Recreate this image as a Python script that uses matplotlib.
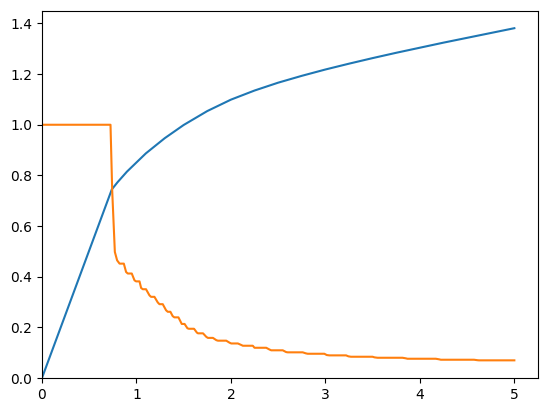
import numpy as np
import matplotlib
matplotlib.use("Agg")
import matplotlib.pyplot as plt

# blue curve
blue_x = [0, 0.74, 0.8, 0.9, 1.1, 1.3, 1.5, 1.75, 2.0, 2.25, 2.5, 2.75, 3.0,
          3.25, 3.5, 3.75, 4.0, 4.25, 4.5, 4.75, 5.0]
blue_y = [0, 0.745, 0.773, 0.815, 0.887, 0.947, 0.999, 1.054, 1.099, 1.135, 1.166, 1.193, 1.218,
          1.241, 1.263, 1.284, 1.304, 1.324, 1.343, 1.362, 1.381]

# orange stepped curve (corners of the steps)
orange_x = [0, 0.726, 0.744, 0.772, 0.796, 0.822, 0.867, 0.891, 0.909, 0.951,
            0.980, 0.997, 1.033, 1.050, 1.068, 1.102, 1.138, 1.155, 1.191, 1.226,
            1.244, 1.279, 1.314, 1.332, 1.360, 1.384, 1.402, 1.445, 1.472, 1.48,
            1.51, 1.54, 1.555, 1.61, 1.64, 1.652, 1.705, 1.740, 1.757, 1.810,
            1.846, 1.863, 1.951, 1.986, 2.004, 2.074, 2.110, 2.127, 2.232, 2.25,
            2.374, 2.409, 2.427, 2.549, 2.585, 2.602, 2.760, 2.793, 2.813, 2.989,
            3.015, 3.042, 3.219, 3.244, 3.271, 3.499, 3.52, 3.552, 3.816, 3.852,
            3.869, 4.169, 4.204, 4.222, 4.573, 4.608, 4.626, 5.0]
orange_y = [1.0, 1.0, 0.74, 0.498, 0.465, 0.452, 0.452, 0.419, 0.413, 0.413,
            0.386, 0.382, 0.382, 0.356, 0.351, 0.351, 0.327, 0.321, 0.321, 0.299,
            0.292, 0.292, 0.268, 0.262, 0.262, 0.245, 0.240, 0.240, 0.220, 0.214,
            0.214, 0.197, 0.195, 0.195, 0.180, 0.177, 0.177, 0.163, 0.159, 0.159,
            0.150, 0.148, 0.148, 0.140, 0.137, 0.137, 0.131, 0.128, 0.128, 0.120,
            0.120, 0.113, 0.110, 0.110, 0.103, 0.102, 0.102, 0.098, 0.0964, 0.0964,
            0.0913, 0.0900, 0.0900, 0.0862, 0.0846, 0.0846, 0.0822, 0.0806, 0.0806, 0.0783,
            0.0767, 0.0767, 0.0744, 0.0728, 0.0728, 0.0710, 0.0704, 0.0704]

fig = plt.figure(figsize=(5.47, 4.13), dpi=100)
ax = fig.add_axes([0.0766, 0.0843, 0.9069, 0.8898])

ax.plot(blue_x, blue_y)
ax.plot(orange_x, orange_y)
ax.set_xlim(left=0)
ax.set_ylim(bottom=0)

fig.savefig("out.png", dpi=100)
